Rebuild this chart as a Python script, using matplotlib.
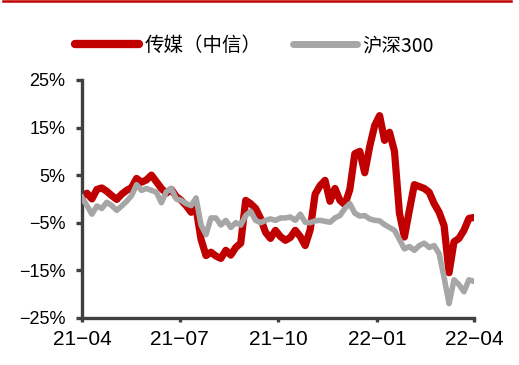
import matplotlib.pyplot as plt
import matplotlib.dates as mdates
from matplotlib.lines import Line2D
import pandas as pd

plt.rcParams['font.family'] = ['Liberation Sans', 'Noto Sans CJK SC', 'DejaVu Sans']
plt.rcParams['axes.unicode_minus'] = True

# roughly every 4.6 days from 2021-04-01 to 2022-04-01
dates = pd.date_range('2021-04-01', '2022-04-01', periods=80)

media = [0.5, 1.2, 0.0, 2.0, 2.3, 1.6, 0.7, -0.1, 1.0, 1.8,
         2.4, 4.3, 3.5, 4.0, 5.0, 3.6, 2.2, 1.2, 2.0, 0.5,
         -0.3, -1.4, -2.8, -2.0, -8.5, -11.9, -11.2, -12.0, -12.5, -10.8,
         -11.8, -10.2, -9.3, -0.3, -1.0, -2.0, -4.1, -7.0, -8.3, -6.6,
         -7.9, -8.7, -8.1, -6.6, -7.9, -9.8, -6.5, 1.0, 2.8, 3.9,
         -0.5, 2.2, -0.3, -1.2, 2.0, 9.5, 10.0, 5.5, 11.0, 15.4,
         17.5, 12.3, 14.0, 10.0, -3.0, -8.0, -2.4, 3.0, 2.6, 2.2,
         1.4, -1.0, -2.8, -5.6, -15.5, -9.0, -8.3, -6.6, -4.1, -3.9]

hs300 = [0.3, -1.4, -3.2, -1.5, -2.0, -0.7, -1.4, -2.4, -1.5, -0.5,
         0.7, 3.0, 1.8, 2.2, 1.8, 1.4, -0.8, 1.5, 2.2, 0.0,
         -0.3, -1.0, -1.4, 0.2, -5.5, -7.5, -4.0, -4.0, -5.5, -4.5,
         -6.0, -5.0, -5.5, -3.5, -2.6, -4.5, -5.0, -4.5, -4.2, -4.5,
         -4.0, -4.0, -3.8, -4.5, -3.2, -4.9, -5.0, -4.6, -4.5, -4.7,
         -4.9, -4.0, -3.5, -2.0, -1.0, -3.0, -3.6, -3.5, -4.2, -4.5,
         -4.6, -5.4, -6.0, -6.6, -8.5, -10.5, -10.0, -10.8, -9.8, -9.3,
         -10.2, -9.8, -11.5, -16.5, -22.0, -17.0, -18.0, -19.5, -17.0, -17.3]

yticks = [-25, -15, -5, 5, 15, 25]
xticks = ['2021-04-01', '2021-07-01', '2021-10-01', '2022-01-01', '2022-04-01']

red = '#C00000'
grey = '#A6A6A6'
axis_col = '#404040'

fig = plt.figure(figsize=(5.19, 3.65), dpi=100)
ax = fig.add_axes([0.158, 0.129, 0.755, 0.652])

ax.plot(dates, media, color=red, linewidth=5.2, solid_joinstyle='round', zorder=2)
ax.plot(dates, hs300, color=grey, linewidth=4.0, solid_joinstyle='round', zorder=3)

ax.set_ylim(-25, 25)
ax.set_yticks(yticks)
ax.set_yticklabels([f'{v}%'.replace('-', '\u2212') for v in yticks])
ax.set_xlim(pd.Timestamp(xticks[0]), pd.Timestamp(xticks[-1]))
ax.set_xticks([pd.Timestamp(d) for d in xticks])
ax.xaxis.set_major_formatter(mdates.DateFormatter('%y\u2212%m'))

for s in ['top', 'right']:
    ax.spines[s].set_visible(False)
for s in ['left', 'bottom']:
    ax.spines[s].set_color(axis_col)
    ax.spines[s].set_linewidth(2.4)
ax.tick_params(axis='y', length=4, width=2.4, color=axis_col, labelsize=13, pad=8)
ax.tick_params(axis='x', length=3, width=2.4, color=axis_col, labelsize=15, pad=6)

handles = [Line2D([], [], color=red, linewidth=6, solid_capstyle='round'),
           Line2D([], [], color=grey, linewidth=5, solid_capstyle='round')]
fig.legend(handles, ['传媒（中信）', '沪深300'], loc='center', bbox_to_anchor=(0.49, 0.875),
           ncol=2, frameon=False, handlelength=3.3, handletextpad=0.3, columnspacing=1.6,
           prop={'family': ['Noto Sans CJK SC', 'DejaVu Sans'], 'size': 14})

# red rule at the very top
fig.add_artist(Line2D([0.006, 0.985], [0.997, 0.997], color=red, linewidth=1.8))

fig.savefig('out.png', dpi=100)
